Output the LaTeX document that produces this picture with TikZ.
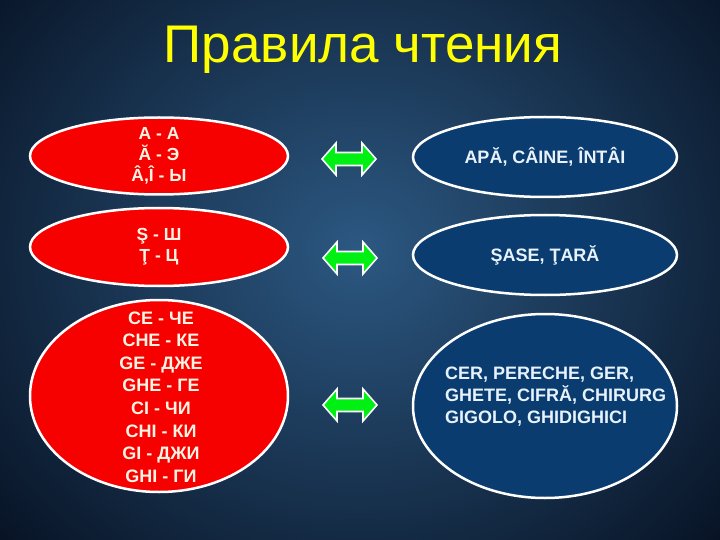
\documentclass[tikz,border=0pt]{standalone}
\usepackage{fontspec}
\setmainfont{Liberation Sans}
\usetikzlibrary{shapes.geometric}
\definecolor{bgin}{RGB}{44,88,130}
\definecolor{bgout}{RGB}{8,20,38}
\definecolor{redfill}{RGB}{246,0,0}
\definecolor{bluefill}{RGB}{10,60,112}
\definecolor{redtext}{RGB}{255,244,228}
\definecolor{bluetext}{RGB}{232,242,252}
\definecolor{titleyellow}{RGB}{255,255,0}
\definecolor{arrowgreen}{RGB}{0,240,20}
\tikzset{
  redell/.style={ellipse, draw=white, line width=2.5pt, fill=redfill, inner sep=0pt},
  blueell/.style={ellipse, draw=white, line width=2.5pt, fill=bluefill, inner sep=0pt},
  redtxt/.style={text=redtext, align=center, inner sep=0pt, font=\bfseries\fontsize{17.5}{21}\selectfont},
  bluetxt/.style={text=bluetext, inner sep=0pt, font=\bfseries\fontsize{18}{22}\selectfont},
  arrowshape/.style={fill=arrowgreen, draw=white, line width=1.6pt, line join=miter},
  dbl/.pic={
    \draw[arrowshape] (-27,0) -- (-13,-16) -- (-13,-6.5) -- (13,-6.5) -- (13,-16) -- (27,0)
      -- (13,16) -- (13,6.5) -- (-13,6.5) -- (-13,16) -- cycle;
  }
}
\begin{document}
\begin{tikzpicture}[x=1pt,y=-1pt]
\useasboundingbox (0,0) rectangle (720,540);
\shade[inner color=bgin, outer color=bgout] (-120,-180) rectangle (840,680);
% title
\node (title) [font=\fontsize{53}{58}\selectfont, text=titleyellow] at (363,50) {Правила чтения};
% left red ellipses
\node (r1) [redell, minimum width=258pt, minimum height=77pt] at (159,156) {};
\node (r1t) [redtxt] at (r1.center) {A - A\\Ă - Э\\Â,Î - Ы};
\node (r2) [redell, minimum width=258pt, minimum height=78pt] at (159,247) {};
\node (r2t) [redtxt] at (r2.center) {Ş - Ш\\Ţ - Ц};
\node (r3) [redell, minimum width=258pt, minimum height=192pt] at (159,396) {};
\node (r3t) [redtxt, font=\bfseries\fontsize{18}{22.6}\selectfont] at (161,397)
  {CE - ЧЕ\\CHE - КЕ\\GE - ДЖЕ\\GHE - ГЕ\\CI - ЧИ\\CHI - КИ\\GI - ДЖИ\\GHI - ГИ};
% right blue ellipses
\node (b1) [blueell, minimum width=264pt, minimum height=80pt] at (545,157) {};
\node (b1t) [bluetxt] at (b1.center) {APĂ, CÂINE, ÎNTÂI};
\node (b2) [blueell, minimum width=264pt, minimum height=80pt] at (545,255) {};
\node (b2t) [bluetxt] at (b2.center) {ŞASE, ŢARĂ};
\node (b3) [blueell, minimum width=264pt, minimum height=184pt] at (545,406) {};
\node (b3t) [bluetxt, align=left, anchor=north west] at (445,367)
  {CER, PERECHE, GER,\\GHETE, CIFRĂ, CHIRURG\\GIGOLO, GHIDIGHICI};
% double arrows
\pic at (349,159) {dbl};
\pic at (350,258) {dbl};
\pic at (350,405) {dbl};
\end{tikzpicture}
\end{document}
